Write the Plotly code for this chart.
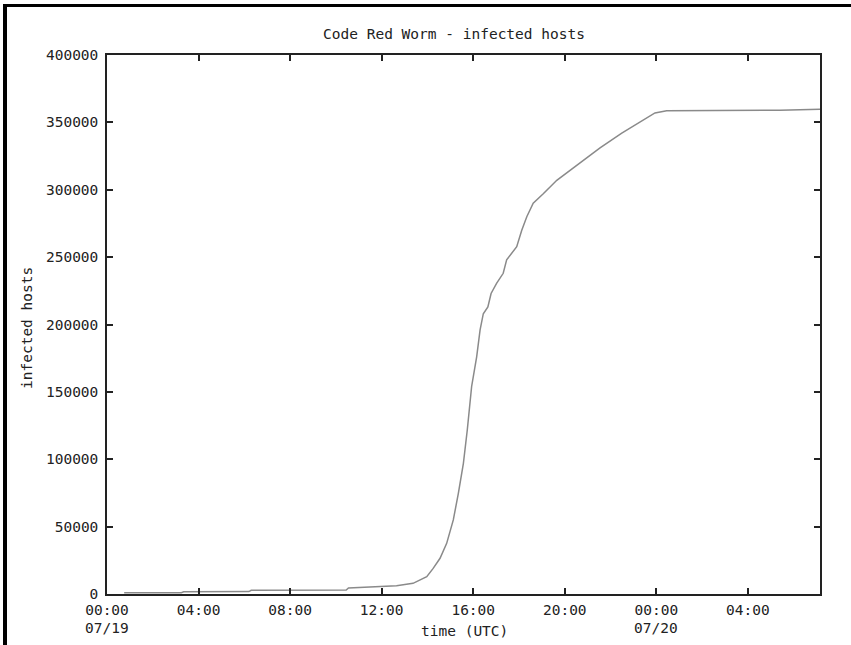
import pandas as pd
import plotly.graph_objects as go

# hours since 2001-07-19 00:00 UTC
hours = [0.75, 3.25, 3.35, 6.2, 6.3, 10.45, 10.55, 12.0, 12.65, 13.37, 13.97, 14.25,
         14.55, 14.84, 15.13, 15.35, 15.57, 15.74, 15.93, 16.15, 16.3, 16.44, 16.64,
         16.78, 17.02, 17.31, 17.46, 17.9, 18.12, 18.34, 18.62, 19.06, 19.65, 21.54,
         22.49, 23.94, 24.45, 29.4, 31.15]
infected = [900, 1000, 1700, 1800, 2750, 2900, 4450, 5400, 6200, 7900, 12800, 19000,
            26500, 37600, 55000, 74700, 97000, 121700, 154000, 176000, 196000, 208000, 213000,
            223000, 230500, 238000, 248000, 257700, 270000, 280000, 290000, 297000, 307000, 331000,
            342000, 357000, 358600, 359000, 359700]

tick_hours = [0, 4, 8, 12, 16, 20, 24, 28]
tick_text = ["00:00", "04:00", "08:00", "12:00", "16:00", "20:00", "00:00", "04:00"]
date_hours = [0, 24]
date_text = ["07/19", "07/20"]
y_ticks = [0, 50000, 100000, 150000, 200000, 250000, 300000, 350000, 400000]

start = pd.Timestamp("2001-07-19 00:00")
x = [start + pd.Timedelta(hours=h) for h in hours]
tx = [start + pd.Timedelta(hours=h) for h in tick_hours]
dx = [start + pd.Timedelta(hours=h) for h in date_hours]
x_end = start + pd.Timedelta(hours=31.15)

FONT = "DejaVu Sans Mono"
TXT = "#222222"
FS = 14.5

fig = go.Figure()
fig.add_trace(go.Scatter(x=x, y=infected, mode="lines",
                         line=dict(color="#8a8a8a", width=1.5), showlegend=False))

W, H = 851, 645
L, R, T, B = 107, 31, 55, 51
pw, ph = W - L - R, H - T - B

def px(v):
    return (v - L) / pw

def py(v):
    return (H - B - v) / ph

annotations = [
    dict(text="infected hosts", xref="paper", yref="paper", x=px(27), y=py(328),
         textangle=-90, showarrow=False, xanchor="center", yanchor="middle",
         font=dict(family=FONT, size=FS, color=TXT)),
    dict(text="time (UTC)", xref="paper", yref="paper", x=px(464), y=py(631),
         showarrow=False, xanchor="center", yanchor="middle",
         font=dict(family=FONT, size=FS, color=TXT)),
]
for d, t in zip(dx, date_text):
    annotations.append(dict(text=t, xref="x", yref="paper", x=d, y=py(627.5),
                            showarrow=False, xanchor="center", yanchor="middle",
                            font=dict(family=FONT, size=FS, color=TXT)))

fig.update_layout(
    width=W, height=H,
    margin=dict(l=L, r=R, t=T, b=B, autoexpand=False),
    paper_bgcolor="white", plot_bgcolor="white",
    font=dict(family=FONT, size=FS, color=TXT),
    title=dict(text="Code Red Worm - infected hosts", x=454 / W, xanchor="center",
               y=1 - 34 / H, yanchor="middle", font=dict(family=FONT, size=FS, color=TXT)),
    xaxis=dict(range=[start, x_end], tickvals=tx, ticktext=tick_text,
               ticks="inside", ticklen=6, tickwidth=1.5, tickcolor="#222",
               showline=True, linecolor="#222", linewidth=1.5, mirror="ticks",
               showgrid=False, zeroline=False, automargin=False,
               ticklabelstandoff=2),
    yaxis=dict(range=[0, 400000], tickvals=y_ticks, ticktext=[str(v) for v in y_ticks],
               ticks="inside", ticklen=6, tickwidth=1.5, tickcolor="#222",
               showline=True, linecolor="#222", linewidth=1.5, mirror="ticks",
               showgrid=False, zeroline=False, automargin=False,
               ticklabelstandoff=4),
    annotations=annotations,
    shapes=[
        dict(type="rect", xref="paper", yref="paper", x0=px(4), x1=px(W + 2), y0=py(7), y1=py(4),
             fillcolor="black", line=dict(width=0), layer="above"),
        dict(type="rect", xref="paper", yref="paper", x0=px(3), x1=px(7), y0=py(H + 2), y1=py(4),
             fillcolor="black", line=dict(width=0), layer="above"),
    ],
)

fig.write_html("out.html", config={"displayModeBar": False},
               post_script="document.body.style.margin='0';document.body.style.overflow='hidden';")
